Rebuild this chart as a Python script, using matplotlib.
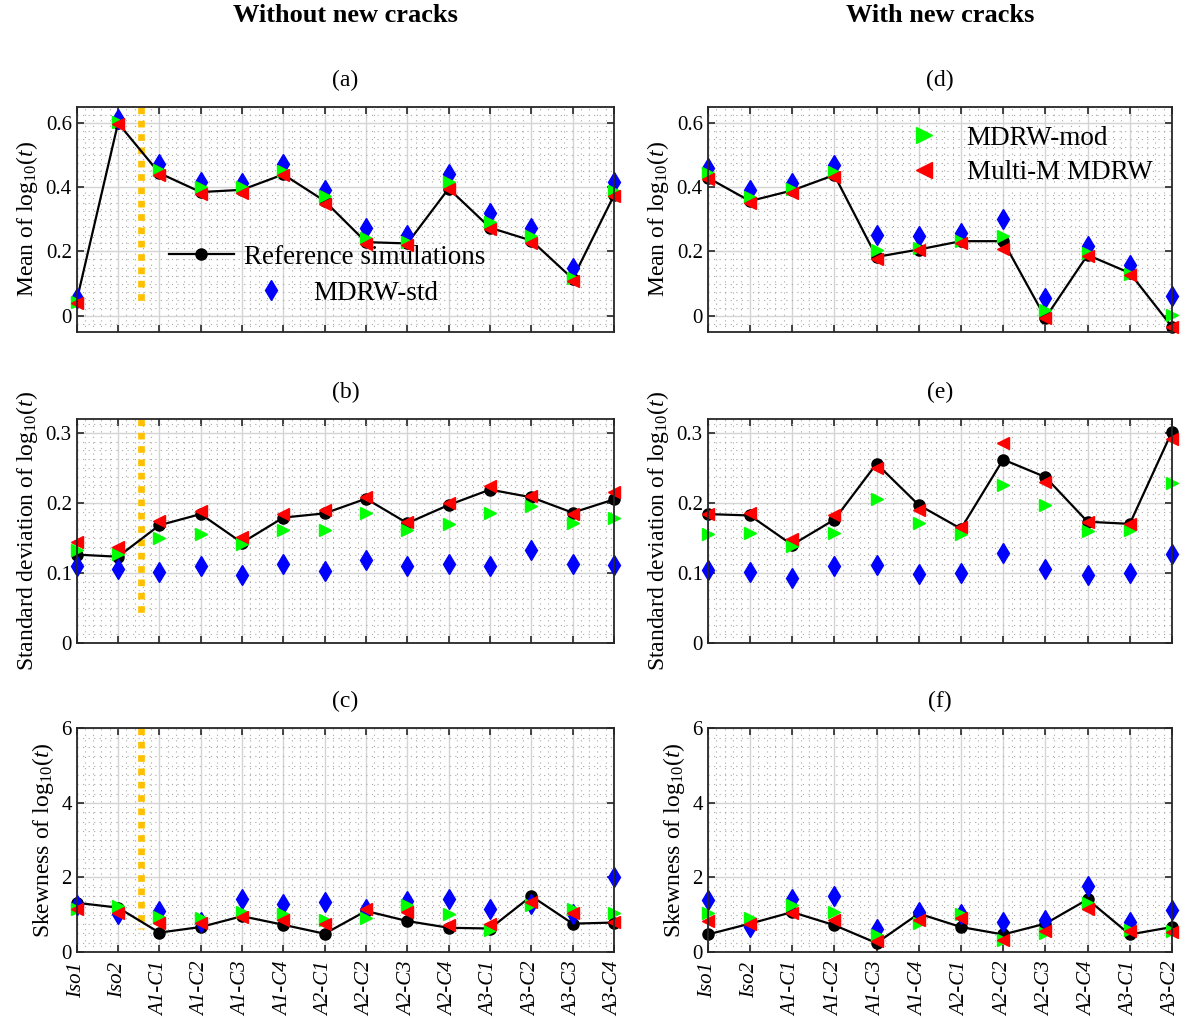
import numpy as np
import matplotlib
matplotlib.use('Agg')
import matplotlib.pyplot as plt
from matplotlib.ticker import MultipleLocator, FuncFormatter

plt.rcParams['font.family'] = 'Liberation Serif'
plt.rcParams['mathtext.fontset'] = 'custom'
plt.rcParams['mathtext.rm'] = 'Liberation Serif'
plt.rcParams['mathtext.it'] = 'Liberation Serif:italic'

#-Cases
cases_wo = ['Iso1', 'Iso2', 'A1-C1', 'A1-C2', 'A1-C3', 'A1-C4', 'A2-C1', 'A2-C2',
            'A2-C3', 'A2-C4', 'A3-C1', 'A3-C2', 'A3-C3', 'A3-C4']
cases_w = cases_wo[:12]

#-Mean of log10(t), without new cracks
mean_ref_wo = [0.047, 0.600, 0.444, 0.385, 0.392, 0.440, 0.357, 0.229, 0.225, 0.396, 0.274, 0.234, 0.115, 0.375]
mean_std_wo = [0.055, 0.613, 0.472, 0.417, 0.412, 0.472, 0.392, 0.274, 0.250, 0.440, 0.320, 0.274, 0.149, 0.417]
mean_mod_wo = [0.042, 0.602, 0.453, 0.400, 0.400, 0.451, 0.373, 0.243, 0.229, 0.415, 0.292, 0.248, 0.118, 0.389]
mean_mmm_wo = [0.038, 0.597, 0.438, 0.380, 0.381, 0.438, 0.347, 0.224, 0.219, 0.394, 0.269, 0.225, 0.109, 0.373]
#-Mean of log10(t), with new cracks
mean_ref_w = [0.430, 0.357, 0.390, 0.438, 0.183, 0.206, 0.232, 0.232, -0.007, 0.189, 0.133, -0.035]
mean_std_w = [0.461, 0.390, 0.412, 0.469, 0.250, 0.248, 0.258, 0.300, 0.055, 0.217, 0.157, 0.062]
mean_mod_w = [0.444, 0.371, 0.396, 0.448, 0.204, 0.211, 0.232, 0.248, 0.017, 0.194, 0.131, 0.003]
mean_mmm_w = [0.425, 0.352, 0.383, 0.433, 0.178, 0.204, 0.227, 0.208, -0.007, 0.185, 0.128, -0.035]

#-Standard deviation of log10(t)
std_ref_wo = [0.126, 0.123, 0.168, 0.184, 0.143, 0.179, 0.185, 0.206, 0.171, 0.197, 0.219, 0.208, 0.186, 0.205]
std_std_wo = [0.110, 0.106, 0.101, 0.110, 0.097, 0.113, 0.102, 0.119, 0.110, 0.113, 0.110, 0.132, 0.113, 0.111]
std_mod_wo = [0.132, 0.127, 0.150, 0.156, 0.141, 0.161, 0.161, 0.186, 0.161, 0.170, 0.185, 0.195, 0.171, 0.178]
std_mmm_wo = [0.144, 0.137, 0.174, 0.188, 0.151, 0.184, 0.190, 0.209, 0.173, 0.200, 0.224, 0.210, 0.184, 0.216]
std_ref_w = [0.184, 0.182, 0.140, 0.176, 0.256, 0.197, 0.163, 0.262, 0.237, 0.173, 0.170, 0.302]
std_std_w = [0.104, 0.101, 0.092, 0.110, 0.111, 0.098, 0.100, 0.128, 0.106, 0.097, 0.099, 0.127]
std_mod_w = [0.156, 0.157, 0.138, 0.157, 0.206, 0.171, 0.155, 0.225, 0.197, 0.160, 0.161, 0.229]
std_mmm_w = [0.184, 0.186, 0.148, 0.182, 0.250, 0.190, 0.165, 0.285, 0.230, 0.173, 0.170, 0.292]

#-Skewness of log10(t)
skew_ref_wo = [1.32, 1.19, 0.52, 0.67, 0.96, 0.73, 0.49, 1.10, 0.83, 0.65, 0.63, 1.50, 0.76, 0.79]
skew_std_wo = [1.25, 1.03, 1.10, 0.81, 1.41, 1.28, 1.34, 1.16, 1.37, 1.41, 1.16, 1.30, 1.01, 2.01]
skew_mod_wo = [1.16, 1.23, 0.94, 0.92, 1.07, 1.01, 0.87, 0.92, 1.25, 1.01, 0.58, 1.25, 1.14, 1.05]
skew_mmm_wo = [1.14, 1.05, 0.78, 0.78, 0.94, 0.87, 0.74, 1.14, 1.07, 0.72, 0.74, 1.34, 1.05, 0.81]
skew_ref_w = [0.47, 0.76, 1.07, 0.72, 0.24, 1.03, 0.67, 0.47, 0.76, 1.41, 0.47, 0.67]
skew_std_w = [1.39, 0.67, 1.41, 1.50, 0.63, 1.06, 1.03, 0.81, 0.87, 1.76, 0.81, 1.12]
skew_mod_w = [1.05, 0.90, 1.25, 1.07, 0.45, 0.78, 1.01, 0.33, 0.51, 1.32, 0.60, 0.56]
skew_mmm_w = [0.83, 0.76, 1.05, 0.85, 0.30, 0.87, 0.90, 0.33, 0.56, 1.16, 0.56, 0.54]

W, H = 1191., 1021.
fig = plt.figure(figsize=(W/100, H/100), dpi=100)

def fpos(x0, y0, x1, y1):
    return [x0/W, 1 - y1/H, (x1 - x0)/W, (y1 - y0)/H]

cols = [(76.7, 614.0), (707.7, 1172.0)]
rows = [(107.0, 331.7), (419.0, 642.7), (728.3, 952.0)]

#-panel settings: ylim, major step, minor step, ylabel, yellow line bottom
rowcfg = [((-0.05, 0.65), 0.2, 0.025, 'Mean of log$_{10}$($t$)', 0.028),
          ((0, 0.32), 0.1, 0.0125, 'Standard deviation of log$_{10}$($t$)', 0.037),
          ((0, 6), 2, 0.25, 'Skewness of log$_{10}$($t$)', 0.62)]

data = [[(mean_ref_wo, mean_std_wo, mean_mod_wo, mean_mmm_wo), (mean_ref_w, mean_std_w, mean_mod_w, mean_mmm_w)],
        [(std_ref_wo, std_std_wo, std_mod_wo, std_mmm_wo), (std_ref_w, std_std_w, std_mod_w, std_mmm_w)],
        [(skew_ref_wo, skew_std_wo, skew_mod_wo, skew_mmm_wo), (skew_ref_w, skew_std_w, skew_mod_w, skew_mmm_w)]]
titles = [['(a)', '(d)'], ['(b)', '(e)'], ['(c)', '(f)']]

fmt = FuncFormatter(lambda v, p: '%g' % round(v, 4))
handles = None
axes = {}
for r in range(3):
    ylim, major, minor, ylab, ybot = rowcfg[r]
    for c in range(2):
        ax = fig.add_axes(fpos(cols[c][0], rows[r][0], cols[c][1], rows[r][1]))
        axes[(r, c)] = ax
        ref, std, mod, mmm = data[r][c]
        cases = cases_wo if c == 0 else cases_w
        x = np.arange(1, len(cases) + 1)
        h1, = ax.plot(x, ref, '-o', color='k', lw=1.6, ms=8, zorder=3, clip_on=False)
        h2, = ax.plot(x, std, 'd', color='b', ms=10, ls='none', zorder=4, clip_on=False)
        h3, = ax.plot(x, mod, '>', color=(0, 1, 0), ms=9, ls='none', zorder=5, clip_on=False)
        h4, = ax.plot(x, mmm, '<', color='r', ms=9, ls='none', zorder=6, clip_on=False)
        handles = (h1, h2, h3, h4)
        if c == 0:
            ax.plot([2.55, 2.55], [ylim[1], ybot], color='#FFC000', lw=4.8,
                    ls=(0, (1, 1)), dash_capstyle='butt', zorder=2)
        ax.set_xlim(1, len(cases))
        ax.set_ylim(*ylim)
        ax.set_xticks(x)
        ax.xaxis.set_minor_locator(MultipleLocator(0.2))
        ax.yaxis.set_major_locator(MultipleLocator(major))
        ax.yaxis.set_minor_locator(MultipleLocator(minor))
        ax.yaxis.set_major_formatter(fmt)
        if r == 2:
            ax.set_xticklabels(cases, rotation=90, fontstyle='italic', fontsize=15)
        else:
            ax.set_xticklabels([])
        ax.set_axisbelow(True)
        ax.grid(which='major', color='#d4d4d4', lw=1.0, ls='-')
        ax.grid(which='minor', color='#a8a8a8', lw=0.8, ls=(0, (1, 4)))
        ax.tick_params(which='major', direction='in', top=True, right=True,
                       length=5, width=1.2, labelsize=15, color='#262626')
        ax.tick_params(axis='x', which='major', pad=7)
        ax.tick_params(which='minor', length=0)
        for s in ax.spines.values():
            s.set_linewidth(1.3)
            s.set_color('#262626')
            s.set_zorder(7)
        ax.set_ylabel(ylab, fontsize=17)
        ax.set_title(titles[r][c], fontsize=17, pad=15)

fig.text(np.mean(cols[0]) / W, 1 - 15 / H, 'Without new cracks', ha='center', va='center',
         fontsize=19, fontweight='bold')
fig.text(np.mean(cols[1]) / W, 1 - 15 / H, 'With new cracks', ha='center', va='center',
         fontsize=19, fontweight='bold')

#-legends
leg_kw = dict(frameon=False, fontsize=19.5, handlelength=2.4, handletextpad=0.37,
              borderpad=0, borderaxespad=0, loc='center left', bbox_transform=fig.transFigure)
ax = axes[(0, 0)]
l1 = ax.legend([handles[0]], ['Reference simulations'], bbox_to_anchor=(168.5 / W, 1 - 257 / H), **leg_kw)
ax.add_artist(l1)
ax.legend([handles[1]], ['MDRW-std'], bbox_to_anchor=(238.5 / W, 1 - 293 / H), **leg_kw)
axes[(0, 1)].legend([handles[2], handles[3]], ['MDRW-mod', 'Multi-M MDRW'],
                    bbox_to_anchor=(891.5 / W, 1 - 155.5 / H), labelspacing=0.35,
                    markerscale=1.25, **leg_kw)

fig.savefig('out.png', dpi=100)
